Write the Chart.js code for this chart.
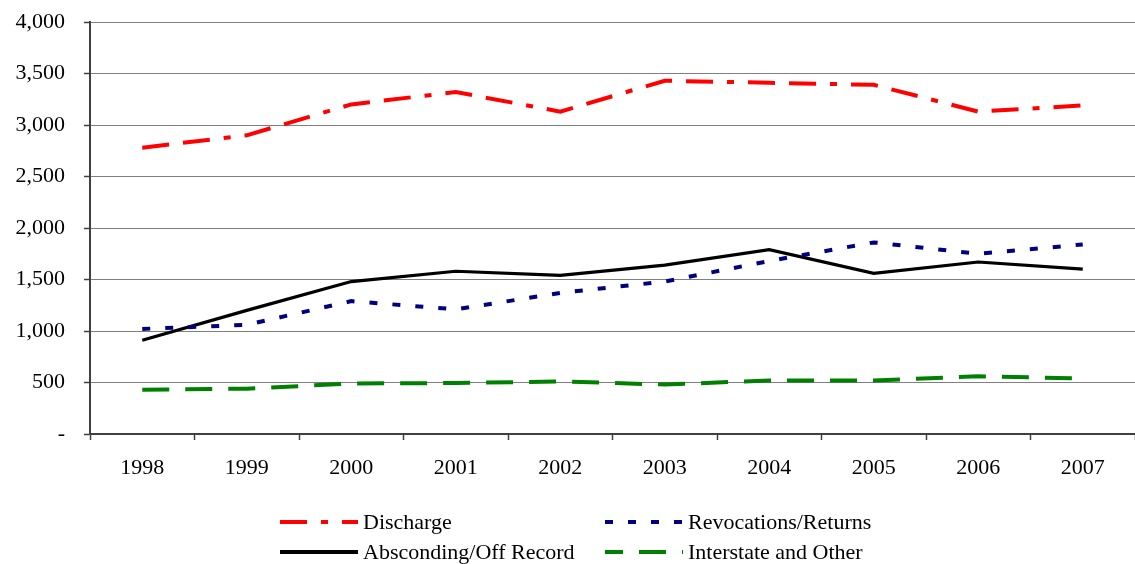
<!DOCTYPE html>
<html>
<head>
<meta charset="utf-8">
<script src="https://cdn.jsdelivr.net/npm/chart.js@4/dist/chart.umd.min.js"></script>
<style>
  html, body { margin: 0; padding: 0; background: #fff; }
  #wrap { width: 1135px; height: 564px; position: relative; }
</style>
</head>
<body>
<div id="wrap"><canvas id="c"></canvas></div>
<script>
const years = ['1998','1999','2000','2001','2002','2003','2004','2005','2006','2007'];
const discharge   = [2780, 2900, 3200, 3320, 3130, 3430, 3410, 3390, 3130, 3190];
const revocations = [1020, 1060, 1290, 1210, 1370, 1480, 1680, 1860, 1750, 1840];
const absconding  = [910, 1200, 1480, 1580, 1540, 1640, 1790, 1560, 1670, 1600];
const interstate  = [430, 440, 490, 495, 510, 480, 520, 520, 560, 540];
const seriesNames = ['Discharge', 'Revocations/Returns', 'Absconding/Off Record', 'Interstate and Other'];
const yTicks = [0, 500, 1000, 1500, 2000, 2500, 3000, 3500, 4000];

const FONT = "'Liberation Serif', 'Times New Roman', serif";
const FSIZE = 22;

const legendPlugin = {
  id: 'customLegend',
  afterDraw(chart) {
    const ctx = chart.ctx;
    const slots = [
      { x: 280, y: 522, off: 41 }, { x: 605, y: 522, off: 0 },
      { x: 280, y: 552, off: 0 },  { x: 605, y: 552, off: 9 }
    ];
    ctx.save();
    ctx.font = FSIZE + 'px ' + FONT;
    ctx.textBaseline = 'middle';
    ctx.textAlign = 'left';
    chart.data.datasets.forEach((ds, i) => {
      const s = slots[i];
      ctx.beginPath();
      ctx.strokeStyle = ds.borderColor;
      ctx.lineWidth = Math.max(ds.borderWidth, 4);
      ctx.lineCap = 'butt';
      ctx.setLineDash(ds.borderDash || []);
      ctx.lineDashOffset = s.off;
      ctx.moveTo(s.x, s.y);
      ctx.lineTo(s.x + 78, s.y);
      ctx.stroke();
      ctx.setLineDash([]);
      ctx.fillStyle = '#000';
      ctx.fillText(ds.label, s.x + 83, s.y + 1);
    });
    ctx.restore();
  }
};

new Chart(document.getElementById('c'), {
  type: 'line',
  data: {
    labels: years,
    datasets: [
      { label: seriesNames[0], data: discharge, borderColor: '#ff0000', borderWidth: 4, borderDash: [27, 14, 27, 14, 7, 14] },
      { label: seriesNames[1], data: revocations, borderColor: '#000080', borderWidth: 4, borderDash: [8, 15] },
      { label: seriesNames[2], data: absconding, borderColor: '#000000', borderWidth: 3.2, borderDash: [] },
      { label: seriesNames[3], data: interstate, borderColor: '#008000', borderWidth: 4, borderDash: [27, 16] }
    ]
  },
  options: {
    responsive: true,
    maintainAspectRatio: false,
    animation: false,
    layout: { padding: { left: 0, right: 0, top: 22, bottom: 0 } },
    elements: {
      line: { tension: 0, fill: false, borderCapStyle: 'butt' },
      point: { radius: 0, hoverRadius: 0 }
    },
    plugins: {
      legend: { display: false },
      tooltip: { enabled: false }
    },
    scales: {
      x: {
        type: 'category',
        offset: true,
        grid: {
          offset: true,
          drawOnChartArea: false,
          drawTicks: true,
          tickLength: 6,
          tickColor: '#404040',
          tickWidth: 1.5
        },
        border: { color: '#404040', width: 2 },
        ticks: {
          color: '#000',
          font: { family: FONT, size: FSIZE },
          padding: 15,
          maxRotation: 0,
          autoSkip: false
        },
        afterFit(scale) { scale.height = 130; scale.paddingLeft = 0; scale.paddingRight = 0; }
      },
      y: {
        min: 0,
        max: 4000,
        afterBuildTicks(scale) { scale.ticks = yTicks.map(v => ({ value: v })); },
        grid: {
          color: '#7f7f7f',
          lineWidth: 1,
          drawTicks: true,
          tickLength: 6,
          tickColor: '#404040',
          tickWidth: 1.5
        },
        border: { color: '#404040', width: 2 },
        ticks: {
          color: '#000',
          font: { family: FONT, size: FSIZE },
          padding: 19,
          callback: v => v === 0 ? '-' : v.toLocaleString('en-US')
        },
        afterFit(scale) { scale.width = 90; scale.paddingTop = 0; scale.paddingBottom = 0; }
      }
    }
  },
  plugins: [legendPlugin]
});
</script>
</body>
</html>
